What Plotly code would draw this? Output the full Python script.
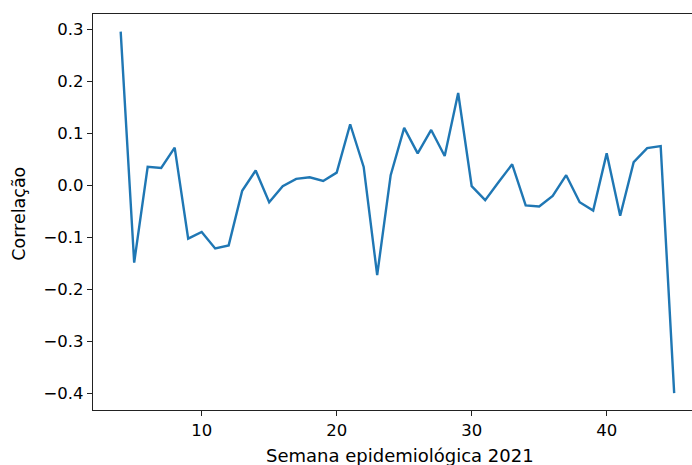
import plotly.graph_objects as go

semanas = list(range(4, 46))
correlacao = [0.295, -0.149, 0.035, 0.033, 0.072, -0.103, -0.090, -0.122, -0.116, -0.011,
              0.028, -0.033, -0.002, 0.012, 0.015, 0.008, 0.024, 0.117, 0.035, -0.173,
              0.019, 0.110, 0.061, 0.106, 0.056, 0.177, -0.002, -0.029, 0.006, 0.040,
              -0.039, -0.041, -0.021, 0.019, -0.033, -0.049, 0.061, -0.059, 0.044, 0.071,
              0.075, -0.400]
x_ticks = [10, 20, 30, 40]
y_ticks = [0.3, 0.2, 0.1, 0.0, -0.1, -0.2, -0.3, -0.4]
y_tick_text = ["0.3", "0.2", "0.1", "0.0", "\u22120.1", "\u22120.2", "\u22120.3", "\u22120.4"]

fig = go.Figure(go.Scatter(x=semanas, y=correlacao, mode="lines",
                           line=dict(color="#1f77b4", width=2.4)))

font = dict(family="DejaVu Sans", size=16.5, color="#000000")
fig.update_layout(
    width=692, height=465,
    margin=dict(l=93, r=0, t=14, b=55),
    paper_bgcolor="white", plot_bgcolor="white",
    showlegend=False,
    font=font,
    xaxis=dict(range=[1.95, 46.32], tickvals=x_ticks, ticks="outside", ticklen=5,
               tickwidth=1.2, tickcolor="#222", showgrid=False, zeroline=False,
               showline=True, linecolor="#222", linewidth=1.2, mirror=True,
               tickfont=font),
    yaxis=dict(range=[-0.4325, 0.329], tickvals=y_ticks, ticktext=y_tick_text,
               ticks="outside", ticklen=5, tickwidth=1.2, tickcolor="#222",
               showgrid=False, zeroline=False, showline=True, linecolor="#222",
               linewidth=1.2, tickfont=font),
    annotations=[
        dict(text="Semana epidemiológica 2021", xref="paper", yref="paper",
             x=0.5125, y=-0.115, xanchor="center", yanchor="middle",
             showarrow=False, font=dict(family="DejaVu Sans", size=18, color="#000")),
        dict(text="Correlação", xref="paper", yref="paper", textangle=-90,
             x=-0.124, y=0.495, xanchor="center", yanchor="middle",
             showarrow=False, font=dict(family="DejaVu Sans", size=17.5, color="#000")),
    ],
)

fig.write_html("out.html")
